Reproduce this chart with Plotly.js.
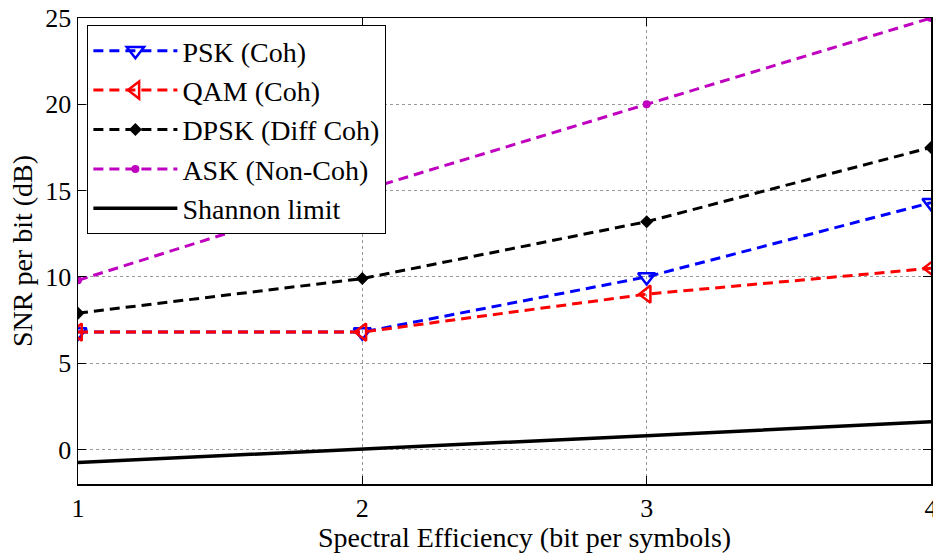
<!DOCTYPE html>
<html>
<head>
<meta charset="utf-8">
<script src="https://cdn.plot.ly/plotly-3.0.1.min.js"></script>
<style>html,body{margin:0;padding:0;background:#fff;}#chart{width:933px;height:556px;}</style>
</head>
<body>
<div id="chart"></div>
<script>
const spectralEff = [1, 2, 3, 4];
const pskCoh = [6.8, 6.8, 10.0, 14.3];
const qamCoh = [6.8, 6.8, 9.0, 10.5];
const dpskDiffCoh = [7.9, 9.9, 13.2, 17.5];
const askNonCoh = [9.8, 15.0, 20.0, 25.0];
const shannonLimit = [-0.75, 0.0, 0.8, 1.6];
const seriesNames = ['PSK (Coh)', 'QAM (Coh)', 'DPSK (Diff Coh)', 'ASK (Non-Coh)', 'Shannon limit'];
const xTicks = [1, 2, 3, 4];
const yTicks = [0, 5, 10, 15, 20, 25];
const xTitle = 'Spectral Efficiency (bit per symbols)';
const yTitle = 'SNR per bit (dB)';

const dash = '10px,6px';
const traces = [
  {x: spectralEff, y: pskCoh, name: seriesNames[0], mode: 'lines+markers', legendgroup: 'a',
   line: {color: '#0000ff', width: 3, dash: dash},
   marker: {symbol: 'triangle-down-open', size: 15, color: '#0000ff', line: {width: 2.5, color: '#0000ff'}}},
  {x: spectralEff, y: qamCoh, name: seriesNames[1], mode: 'lines+markers', legendgroup: 'b',
   line: {color: '#ff0000', width: 3, dash: dash},
   marker: {symbol: 'triangle-left-open', size: 15, color: '#ff0000', line: {width: 2.5, color: '#ff0000'}}},
  {x: spectralEff, y: dpskDiffCoh, name: seriesNames[2], mode: 'lines+markers', legendgroup: 'c',
   line: {color: '#000000', width: 3, dash: dash},
   marker: {symbol: 'diamond', size: 10, color: '#000000'}},
  {x: spectralEff, y: askNonCoh, name: seriesNames[3], mode: 'lines+markers', legendgroup: 'd',
   line: {color: '#bf00bf', width: 3, dash: dash},
   marker: {symbol: 'circle', size: 8, color: '#bf00bf'}},
  {x: spectralEff, y: shannonLimit, name: seriesNames[4], mode: 'lines', legendgroup: 'e',
   line: {color: '#000000', width: 3.5}}
];

const fontFam = 'Liberation Serif';
const layout = {
  width: 933, height: 556,
  margin: {l: 78, r: 2, t: 18, b: 72},
  paper_bgcolor: '#ffffff', plot_bgcolor: '#ffffff',
  font: {family: fontFam, size: 24, color: '#000000'},
  showlegend: true,
  legend: {
    x: 0.011, y: 0.985, xanchor: 'left', yanchor: 'top',
    bgcolor: '#ffffff', bordercolor: '#000000', borderwidth: 1,
    font: {family: fontFam, size: 28, color: '#000000'},
    traceorder: 'grouped', tracegroupgap: 0, itemwidth: 84
  },
  annotations: [{
    text: xTitle, xref: 'paper', yref: 'paper', x: 0.523, y: -0.114,
    xanchor: 'center', yanchor: 'middle', showarrow: false,
    font: {family: fontFam, size: 28, color: '#000000'}
  }],
  xaxis: {
    range: [1, 4], tickvals: xTicks, ticktext: xTicks.map(String),
    ticks: 'inside', ticklen: 8, tickcolor: '#000000', tickwidth: 1,
    showline: true, linecolor: '#000000', linewidth: 1.5, mirror: 'ticks',
    showgrid: true, gridcolor: '#999999', griddash: 'dot', gridwidth: 1,
    zeroline: false, ticklabeloverflow: 'allow',
    tickfont: {family: fontFam, size: 26, color: '#000000'}
  },
  yaxis: {
    range: [-2, 25], tickvals: yTicks, ticktext: yTicks.map(String),
    ticks: 'inside', ticklen: 8, tickcolor: '#000000', tickwidth: 1,
    showline: true, linecolor: '#000000', linewidth: 1.5, mirror: 'ticks',
    showgrid: true, gridcolor: '#999999', griddash: 'dot', gridwidth: 1,
    zeroline: false,
    tickfont: {family: fontFam, size: 26, color: '#000000'},
    title: {text: yTitle, font: {family: fontFam, size: 28, color: '#000000'}, standoff: 4}
  }
};

Plotly.newPlot('chart', traces, layout, {displayModeBar: false, staticPlot: true});
</script>
</body>
</html>
